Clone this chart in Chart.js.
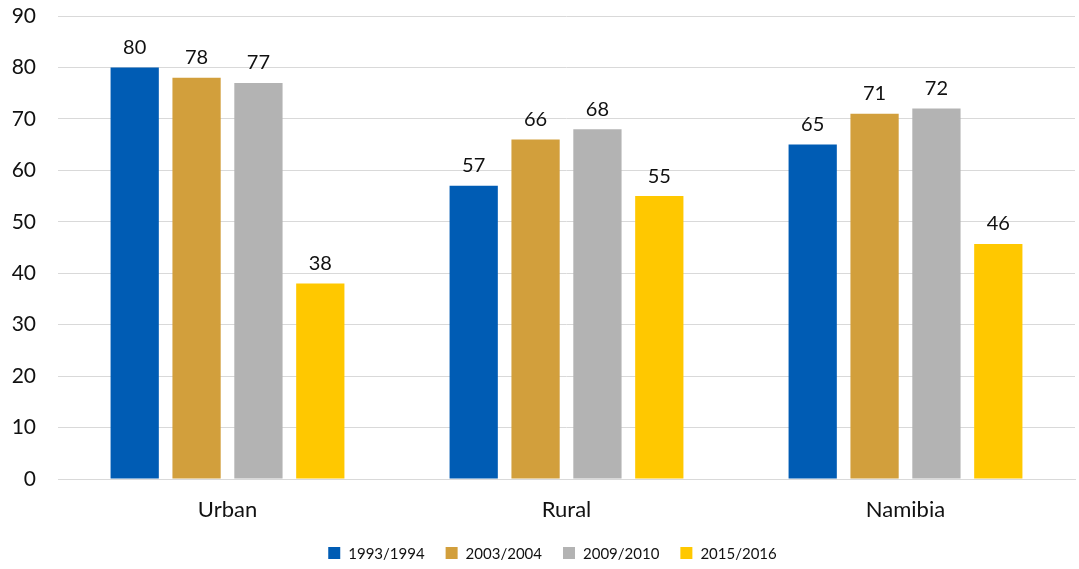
<!DOCTYPE html>
<html>
<head>
<meta charset="utf-8">
<script src="https://cdn.jsdelivr.net/npm/chart.js@4/dist/chart.umd.min.js"></script>
<style>
  html, body { margin: 0; padding: 0; background: #fff; }
  #wrap { width: 1079px; height: 569px; }
</style>
</head>
<body>
<div id="wrap"><canvas id="myChart"></canvas></div>
<script>
const categories = ['Urban', 'Rural', 'Namibia'];
const periods = ['1993/1994', '2003/2004', '2009/2010', '2015/2016'];
const values1993 = [80, 57, 65];
const values2003 = [78, 66, 71];
const values2009 = [77, 68, 72];
const values2015 = [38, 55, 45.7];
const yTicks = [0, 10, 20, 30, 40, 50, 60, 70, 80, 90];
const colors = ['#005cb4', '#d29f3c', '#b3b3b3', '#ffc800'];

const FONT = 'Lato, "Open Sans", sans-serif';

// numbers above each bar
const barLabels = {
  id: 'barLabels',
  afterDatasetsDraw(chart) {
    const ctx = chart.ctx;
    ctx.save();
    ctx.font = '20px ' + FONT;
    ctx.fillStyle = '#111';
    ctx.textAlign = 'center';
    ctx.textBaseline = 'bottom';
    chart.data.datasets.forEach((ds, i) => {
      chart.getDatasetMeta(i).data.forEach((bar, j) => {
        ctx.fillText(Math.round(ds.data[j]), bar.x, bar.y - 10);
      });
    });
    ctx.restore();
  }
};

// legend row along the bottom edge, drawn by hand for tighter spacing
const bottomLegend = {
  id: 'bottomLegend',
  afterDraw(chart) {
    const ctx = chart.ctx;
    const box = 12, gap = 8, spacing = 21;
    ctx.save();
    ctx.font = '15px ' + FONT;
    ctx.textBaseline = 'middle';
    ctx.textAlign = 'left';
    const items = chart.data.datasets.map(ds => ({
      text: ds.label,
      color: ds.backgroundColor,
      w: box + gap + ctx.measureText(ds.label).width
    }));
    const total = items.reduce((s, it) => s + it.w, 0) + spacing * (items.length - 1);
    const cx = (chart.chartArea.left + chart.chartArea.right) / 2 - 14;
    let x = cx - total / 2;
    const y = 553;
    items.forEach(it => {
      ctx.fillStyle = it.color;
      ctx.fillRect(x, y - box / 2, box, box);
      ctx.fillStyle = '#111';
      ctx.fillText(it.text, x + box + gap, y + 1);
      x += it.w + spacing;
    });
    ctx.restore();
  }
};

const seriesData = [values1993, values2003, values2009, values2015];

new Chart(document.getElementById('myChart').getContext('2d'), {
  type: 'bar',
  data: {
    labels: categories,
    datasets: periods.map((p, i) => ({
      label: p,
      data: seriesData[i],
      backgroundColor: colors[i],
      categoryPercentage: 0.73,
      barPercentage: 0.78
    }))
  },
  options: {
    responsive: true,
    maintainAspectRatio: false,
    animation: false,
    layout: { padding: { left: 0, right: 4, top: 16, bottom: 46 } },
    scales: {
      y: {
        min: 0,
        max: 90,
        afterBuildTicks(axis) { axis.ticks = yTicks.map(v => ({ value: v })); },
        afterFit(axis) {
          axis.width = 58;
          axis.paddingTop = 0;
          axis.paddingBottom = 0;
        },
        grid: { color: '#d9d9d9', lineWidth: 1, drawTicks: false },
        border: { display: false },
        ticks: { color: '#111', padding: 22, font: { family: FONT, size: 21 } }
      },
      x: {
        afterFit(axis) { axis.height = 44; },
        grid: { display: false, drawTicks: false },
        border: { color: '#d9d9d9' },
        ticks: { color: '#111', padding: 18, font: { family: FONT, size: 22 } }
      }
    },
    plugins: {
      legend: { display: false },
      tooltip: { enabled: false }
    }
  },
  plugins: [barLabels, bottomLegend]
});
</script>
</body>
</html>
